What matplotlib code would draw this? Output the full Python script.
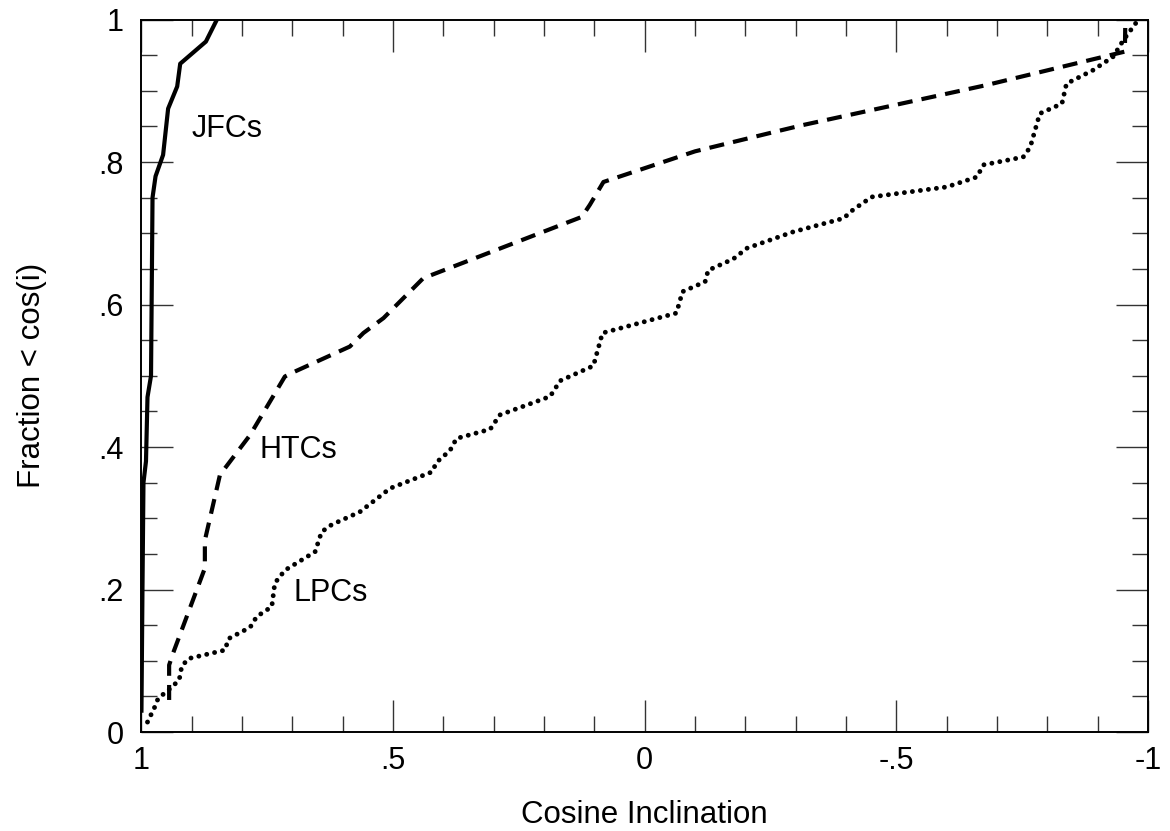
import matplotlib
matplotlib.use('Agg')
import matplotlib.pyplot as plt
from matplotlib.ticker import MultipleLocator, FixedLocator

plt.rcParams['font.family'] = ['Liberation Sans', 'DejaVu Sans']

# cumulative fractions
jfc_x = [1.0, 0.998, 0.996, 0.991, 0.988, 0.981, 0.978, 0.972, 0.957, 0.947, 0.929, 0.923, 0.872, 0.850]
jfc_y = [0.03, 0.20, 0.35, 0.38, 0.47, 0.50, 0.75, 0.78, 0.81, 0.875, 0.906, 0.938, 0.969, 1.0]

htc_x = [0.945, 0.945, 0.937, 0.874, 0.874, 0.844, 0.784, 0.715, 0.695, 0.586, 0.559,
         0.519, 0.44, 0.125, 0.109, 0.082, -0.10, -0.262, -0.315, -0.679, -0.954, -0.955]
htc_y = [0.045, 0.094, 0.111, 0.23, 0.269, 0.361, 0.417, 0.499, 0.506, 0.541, 0.56,
         0.581, 0.637, 0.723, 0.74, 0.772, 0.815, 0.843, 0.852, 0.908, 0.955, 1.0]

lpc_x = [0.988, 0.973, 0.967, 0.943, 0.925, 0.92, 0.907, 0.834, 0.827, 0.784, 0.771, 0.741,
         0.735, 0.715, 0.655, 0.642, 0.622, 0.566, 0.506, 0.423, 0.413, 0.387, 0.374, 0.307,
         0.288, 0.188, 0.168, 0.102, 0.084, -0.063, -0.075, -0.12, -0.126, -0.176, -0.203,
         -0.295, -0.395, -0.414, -0.451, -0.6, -0.66, -0.673, -0.752, -0.766, -0.785, -0.829,
         -0.838, -0.891, -0.931, -0.951, -0.981]
lpc_y = [0.014, 0.036, 0.047, 0.061, 0.073, 0.092, 0.103, 0.115, 0.131, 0.147, 0.162, 0.176,
         0.209, 0.227, 0.253, 0.281, 0.291, 0.309, 0.342, 0.365, 0.379, 0.395, 0.412, 0.425,
         0.445, 0.471, 0.493, 0.514, 0.56, 0.588, 0.618, 0.632, 0.648, 0.664, 0.679,
         0.702, 0.721, 0.733, 0.751, 0.765, 0.779, 0.796, 0.807, 0.821, 0.868, 0.882,
         0.91, 0.929, 0.948, 0.971, 1.0]

labels = ['JFCs', 'HTCs', 'LPCs']
label_pos = [(0.90, 0.835), (0.766, 0.384), (0.697, 0.184)]

fig = plt.figure(figsize=(11.7, 8.31), dpi=100)
ax = fig.add_axes([0.1209, 0.1191, 0.8603, 0.8574])

ax.plot(jfc_x, jfc_y, color='black', lw=3.0, solid_joinstyle='round')
ax.plot(htc_x, htc_y, color='black', lw=3.0, linestyle=(0, (3.6, 2.2)))
ax.plot(lpc_x, lpc_y, color='black', lw=3.5, linestyle=(0, (0.01, 1.65)),
        dash_capstyle='round')

for lab, (lx, ly) in zip(labels, label_pos):
    ax.text(lx, ly, lab, fontsize=22, ha='left', va='baseline')

ax.set_xlim(1, -1)
ax.set_ylim(0, 1)

ax.xaxis.set_major_locator(FixedLocator([1, 0.5, 0, -0.5, -1]))
ax.xaxis.set_minor_locator(MultipleLocator(0.1))
ax.yaxis.set_major_locator(FixedLocator([0, 0.2, 0.4, 0.6, 0.8, 1]))
ax.yaxis.set_minor_locator(MultipleLocator(0.05))
ax.set_xticklabels(['1', '.5', '0', '-.5', '-1'])
ax.set_yticklabels(['0', '.2', '.4', '.6', '.8', '1'])

ax.tick_params(which='both', direction='in', top=True, right=True, width=1.0, color='#333333')
ax.tick_params(which='major', length=23, labelsize=22)
ax.tick_params(axis='x', which='major', pad=10)
ax.tick_params(axis='y', which='major', pad=13)
ax.tick_params(which='minor', length=11.5)
for sp in ax.spines.values():
    sp.set_linewidth(1.4)

ax.set_xlabel('Cosine Inclination', fontsize=22.5, labelpad=17)
ax.set_ylabel('Fraction < cos(i)', fontsize=22.5, labelpad=37)

fig.savefig('out.png', dpi=100)
